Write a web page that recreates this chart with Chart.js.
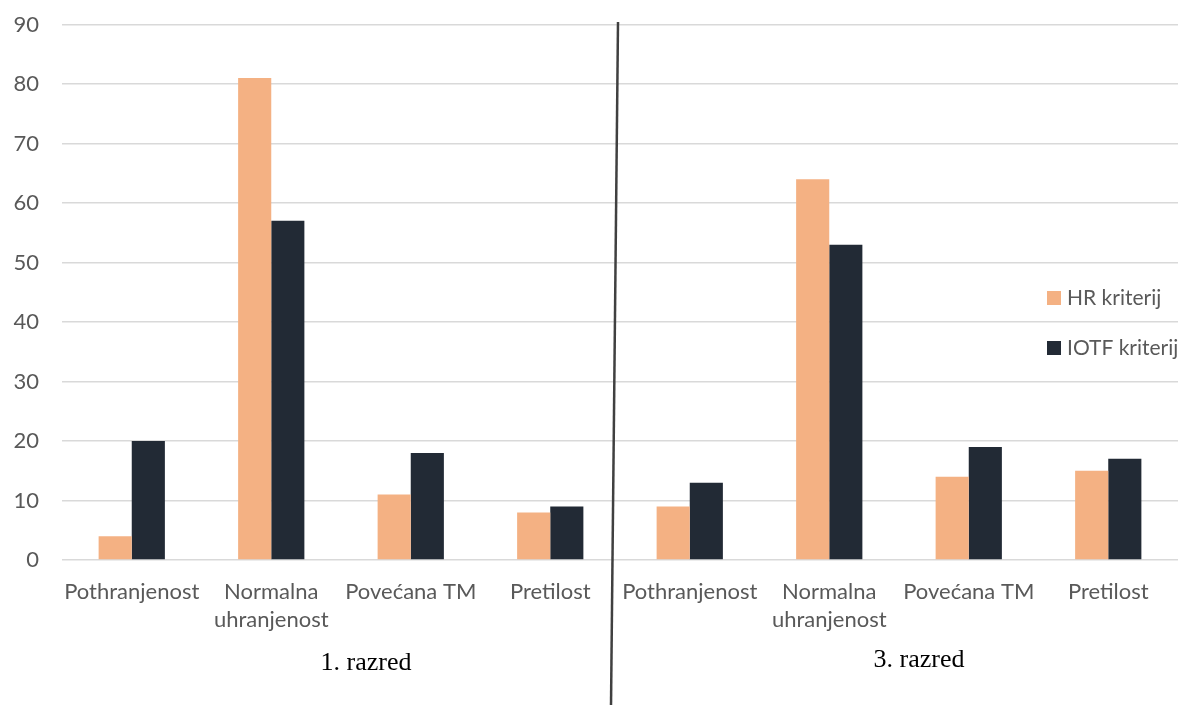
<!DOCTYPE html>
<html>
<head>
<meta charset="utf-8">
<script src="https://cdn.jsdelivr.net/npm/chart.js@4"></script>
<style>
  html, body { margin: 0; padding: 0; background: #fff; }
  #wrap { width: 1184px; height: 705px; }
</style>
</head>
<body>
<div id="wrap"><canvas id="c" width="1184" height="705"></canvas></div>
<script>
var categories = [
  'Pothranjenost', ['Normalna', 'uhranjenost'], 'Povećana TM', 'Pretilost',
  'Pothranjenost', ['Normalna', 'uhranjenost'], 'Povećana TM', 'Pretilost'
];
var groupLabels = ['1. razred', '3. razred'];
var hrValues = [4, 81, 11, 8, 9, 64, 14, 15];
var iotfValues = [20, 57, 18, 9, 13, 53, 19, 17];
var seriesNames = ['HR kriterij', 'IOTF kriterij'];
var seriesColors = ['#F4B183', '#222A35'];

var FONT = 'Lato, "Open Sans", sans-serif';

var extras = {
  id: 'extras',
  afterDraw: function (chart) {
    var ctx = chart.ctx;
    var x = chart.scales.x;
    ctx.save();
    // divider line between the two groups
    ctx.strokeStyle = '#404040';
    ctx.lineWidth = 2.5;
    ctx.beginPath();
    ctx.moveTo(618, 22);
    ctx.lineTo(611, 705);
    ctx.stroke();
    // group titles
    ctx.fillStyle = '#000';
    ctx.font = '26px "Liberation Serif", "Times New Roman", serif';
    ctx.textAlign = 'center';
    ctx.textBaseline = 'middle';
    var half = categories.length / 2;
    var step = x.getPixelForValue(1) - x.getPixelForValue(0);
    ctx.fillText(groupLabels[0], x.getPixelForValue(1) + step / 2 + 25, 663);
    ctx.fillText(groupLabels[1], x.getPixelForValue(half + 1) + step / 2 + 20, 660);
    // legend
    ctx.font = '21px ' + FONT;
    ctx.textAlign = 'left';
    chart.data.datasets.forEach(function (ds, i) {
      var y = 298 + i * 50;
      ctx.fillStyle = ds.backgroundColor;
      ctx.fillRect(1047, y - 7, 14, 14);
      ctx.fillStyle = '#595959';
      ctx.fillText(ds.label, 1067, y);
    });
    ctx.restore();
  }
};

new Chart(document.getElementById('c'), {
  type: 'bar',
  data: {
    labels: categories,
    datasets: [
      { label: seriesNames[0], data: hrValues, backgroundColor: seriesColors[0] },
      { label: seriesNames[1], data: iotfValues, backgroundColor: seriesColors[1] }
    ]
  },
  options: {
    responsive: false,
    animation: false,
    layout: { padding: { top: 0, right: 6, left: 0, bottom: 0 } },
    datasets: { bar: { barPercentage: 1, categoryPercentage: 0.475 } },
    plugins: { legend: { display: false }, tooltip: { enabled: false } },
    scales: {
      x: {
        grid: { display: false },
        border: { display: false },
        ticks: { color: '#595959', font: { family: FONT, size: 22, lineHeight: 1.27 }, maxRotation: 0, autoSkip: false, padding: 10 },
        afterFit: function (s) { s.height = 145; }
      },
      y: {
        min: 0, max: 90,
        ticks: { stepSize: 10, color: '#595959', font: { family: FONT, size: 22 }, padding: 23 },
        grid: { color: '#D9D9D9', lineWidth: 1.5, drawTicks: false },
        border: { display: false },
        afterFit: function (s) { s.width = 62; s.paddingTop = 24.5; }
      }
    }
  },
  plugins: [extras]
});
</script>
</body>
</html>
